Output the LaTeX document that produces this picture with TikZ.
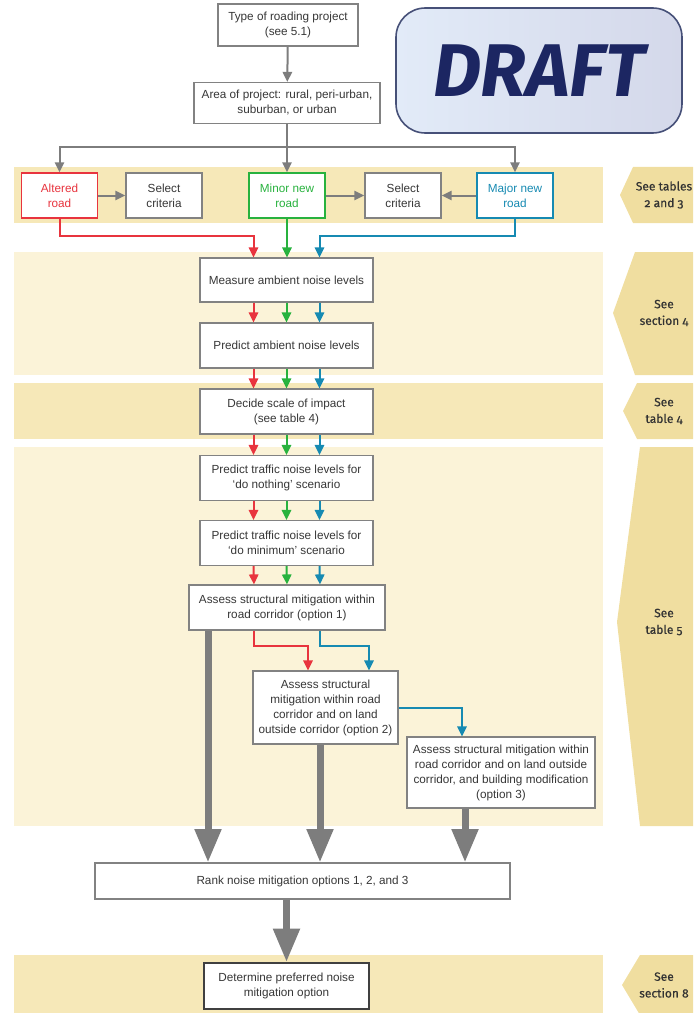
\documentclass[tikz,border=0pt]{standalone}
\usepackage{fontspec}
\setmainfont{Liberation Sans}
\newfontfamily\sidefont[Numbers=OldStyle,FakeBold=0.6]{Fira Sans}
\newfontfamily\draftfont{Fira Sans}
\usetikzlibrary{calc,arrows.meta,positioning}
\definecolor{altred}{RGB}{232,52,62}
\definecolor{minorgreen}{RGB}{40,178,62}
\definecolor{majorteal}{RGB}{22,138,178}
\definecolor{boxgray}{RGB}{130,130,130}
\definecolor{boxtext}{RGB}{55,55,55}
\definecolor{arrowgray}{RGB}{125,125,125}
\definecolor{bandsat}{RGB}{246,232,184}
\definecolor{bandpale}{RGB}{251,243,216}
\definecolor{labelfill}{RGB}{240,222,160}
\definecolor{draftnavy}{RGB}{28,38,98}
\definecolor{stampedge}{RGB}{70,80,120}
\tikzset{
  stage/.style={ % image of one step of the procedure
    rectangle, draw=boxgray, line width=0.9pt, fill=white,
    align=center, inner sep=2pt, text=boxtext,
    font=\fontsize{8.8}{11.25}\selectfont
  },
  road/.style={ % image of a kind of road project
    stage, line width=1.1pt, minimum width=57pt, minimum height=33.75pt
  },
  final/.style={ % image of the last step
    stage, draw=black!75, line width=1.5pt
  },
  stamp/.style={ % the DRAFT stamp
    rectangle, rounded corners=22pt, draw=stampedge, line width=1.2pt,
    left color={rgb,255:red,226;green,235;blue,248},
    right color={rgb,255:red,212;green,216;blue,234},
    minimum width=214.5pt, minimum height=93.75pt, inner sep=0pt,
    text=draftnavy, font=\draftfont\bfseries\itshape\fontsize{56}{56}\selectfont
  },
  seetext/.style={ % text of a pointer to the guide
    align=center, inner sep=0pt, text=black!80,
    font=\sidefont\fontsize{9}{12.5}\selectfont
  },
  feed/.style={ % thin connector
    line width=1.5pt, -{Triangle[length=7.5pt,width=7pt]}
  },
  grayfeed/.style={feed, arrowgray},
  redfeed/.style={feed, altred},
  greenfeed/.style={feed, minorgreen},
  tealfeed/.style={feed, majorteal},
  bigfeed/.style={ % thick connector
    arrowgray, line width=5.25pt, -{Triangle[length=25pt,width=19pt]}
  }
}
\begin{document}
\begin{tikzpicture}[x=0.75pt,y=-0.75pt]
  \useasboundingbox (0,0) rectangle (693,1013);

  % bands
  \foreach \ya/\yb/\col in {167/223/bandsat, 252/375/bandpale, 383/439/bandsat,
                            447/826/bandpale, 955/1013/bandsat}
    \fill[\col] (14,\ya) rectangle (603,\yb);

  % pointers at the right
  \foreach \xa/\xt/\ya/\yt/\yb/\nm/\txt in {
      633/620/167/195/223/seetabs/{See tables\\2 and 3},
      635/613/252/313/375/seesec/{See\\section 4},
      637/623/383/411/439/seetabf/{See\\table 4},
      640/617/447/622/826/seetabv/{See\\table 5},
      640/622/955/985/1015/seesece/{See\\section 8}} {
    \fill[labelfill] (\xa,\ya) -- (\xt,\yt) -- (\xa,\yb) -- (693,\yb) -- (693,\ya) -- cycle;
    \node[seetext] (\nm) at (664,\yt) {\txt};
  }

  \node[stamp] (draft) at (539,70.5) {DRAFT};

  \node[stage, minimum width=105pt, minimum height=31.5pt] (type) at (288,25)
    {Type of roading project\\(see 5.1)};
  \node[stage, minimum width=139.5pt, minimum height=30.75pt] (area) at (287,103)
    {Area of project: rural, peri-urban,\\suburban, or urban};

  \node[road, draw=altred, text=altred] (altered) at (59.5,195.5) {Altered\\road};
  \node[road] (selone) at (164,195.5) {Select\\criteria};
  \node[road, draw=minorgreen, text=minorgreen] (minor) at (287,195.5) {Minor new\\road};
  \node[road] (seltwo) at (403,195.5) {Select\\criteria};
  \node[road, draw=majorteal, text=majorteal] (major) at (515,195.5) {Major new\\road};

  \node[stage, minimum width=129.75pt, minimum height=33pt] (measure) at (286.5,280)
    {Measure ambient noise levels};
  \node[stage, minimum width=129.75pt, minimum height=33.75pt] (predamb) at (286.5,345.5)
    {Predict ambient noise levels};
  \node[stage, minimum width=129.75pt, minimum height=33.75pt] (decide) at (286.5,411.5)
    {Decide scale of impact\\(see table 4)};
  \node[stage, minimum width=129.75pt, minimum height=33.75pt] (nothing) at (286.5,478)
    {Predict traffic noise levels for\\`do nothing' scenario};
  \node[stage, minimum width=129.75pt, minimum height=33.75pt] (minimum) at (286.5,543)
    {Predict traffic noise levels for\\`do minimum' scenario};
  \node[stage, minimum width=147pt, minimum height=33.75pt] (optone) at (287,607.5)
    {Assess structural mitigation within\\road corridor (option 1)};
  \node[stage, minimum width=108.75pt, minimum height=54.75pt] (opttwo) at (325.5,707.5)
    {Assess structural\\mitigation within road\\corridor and on land\\outside corridor (option 2)};
  \node[stage, minimum width=141pt, minimum height=53.25pt] (optthree) at (501,772.5)
    {Assess structural mitigation within\\road corridor and on land outside\\corridor, and building modification\\(option 3)};
  \node[stage, minimum width=311.25pt, minimum height=27pt] (rank) at (302.5,881)
    {Rank noise mitigation options 1, 2, and 3};
  \node[final, minimum width=123.75pt, minimum height=34.5pt] (determine) at (286.5,986)
    {Determine preferred noise\\mitigation option};

  % gray connectors at the top
  \coordinate (split) at (287,147);
  \draw[grayfeed] (type) -- (area);
  \draw[grayfeed] (area.south) -- (minor.north);
  \draw[grayfeed] (split) -| (altered.north);
  \draw[grayfeed] (split) -| (major.north);
  \draw[grayfeed] (altered) -- (selone);
  \draw[grayfeed] (minor) -- (seltwo);
  \draw[grayfeed] (major) -- (seltwo);

  % coloured routes into the column
  \draw[redfeed] (altered.south) |- ($(measure.north)+(-33,-21)$) -- ($(measure.north)+(-33,0)$);
  \draw[greenfeed] (minor.south) -- (minor.south |- measure.north);
  \draw[tealfeed] (major.south) |- ($(measure.north)+(33,-21)$) -- ($(measure.north)+(33,0)$);

  \foreach \a/\b in {measure/predamb, predamb/decide, decide/nothing,
                     nothing/minimum, minimum/optone} {
    \draw[redfeed] ($(\a.south)+(-33,0)$) -- ($(\b.north)+(-33,0)$);
    \draw[greenfeed] (\a.south) -- (\b.north);
    \draw[tealfeed] ($(\a.south)+(33,0)$) -- ($(\b.north)+(33,0)$);
  }

  \draw[redfeed] ($(optone.south)+(-33,0)$) -- ++(0,15) -| ($(opttwo.north)+(-17.5,0)$);
  \draw[tealfeed] ($(optone.south)+(33,0)$) -- ++(0,15) -| ($(opttwo.north)+(43.5,0)$);
  \draw[tealfeed] (opttwo.east) -| ($(optthree.north)+(-39,0)$);

  % thick connectors to the ranking
  \draw[bigfeed] ($(optone.south)+(-79,0)$) coordinate (o1) -- (o1 |- rank.north);
  \draw[bigfeed] ($(opttwo.south)+(-5.5,0)$) coordinate (o2) -- (o2 |- rank.north);
  \draw[bigfeed] ($(optthree.south)+(-36,0)$) coordinate (o3) -- (o3 |- rank.north);
  \draw[bigfeed] (rank.south -| determine.north) -- (determine.north);
\end{tikzpicture}
\end{document}
